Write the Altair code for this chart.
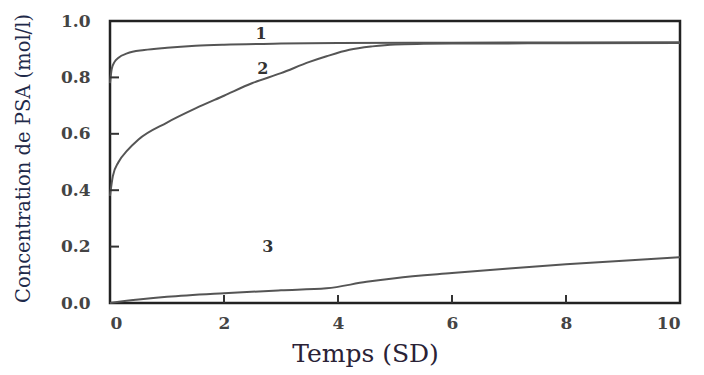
import altair as alt
import pandas as pd

# Curve 1
c1_t = [0, 0.03, 0.08, 0.15, 0.3, 0.6, 1.0, 1.5, 2.0, 3.0, 4.0, 6.0, 8.0, 10.0]
c1_y = [0.78, 0.83, 0.855, 0.87, 0.885, 0.897, 0.905, 0.912, 0.916, 0.92, 0.922, 0.923, 0.924, 0.925]
# Curve 2
c2_t = [0, 0.05, 0.15, 0.3, 0.5, 1.0, 1.5, 2.0, 2.5, 3.0, 3.5, 3.8, 4.2, 4.6, 5.0, 5.5, 6.0, 8.0, 10.0]
c2_y = [0.38, 0.45, 0.50, 0.54, 0.58, 0.64, 0.69, 0.735, 0.78, 0.815, 0.855, 0.875, 0.898, 0.91, 0.917, 0.919, 0.92, 0.921, 0.922]
# Curve 3
c3_t = [0, 0.5, 1.0, 2.0, 3.0, 3.8, 4.5, 5.0, 6.0, 7.0, 8.0, 9.0, 10.0]
c3_y = [0.0, 0.012, 0.022, 0.035, 0.045, 0.052, 0.075, 0.088, 0.106, 0.122, 0.137, 0.150, 0.162]

label_text = ["1", "2", "3"]
label_t = [2.65, 2.68, 2.77]
label_y = [0.955, 0.83, 0.2]

x_ticks = [2, 4, 6, 8]
y_ticks = [0.2, 0.4, 0.6, 0.8]

rows = []
for name, ts, ys in [("1", c1_t, c1_y), ("2", c2_t, c2_y), ("3", c3_t, c3_y)]:
    for t, y in zip(ts, ys):
        rows.append({"serie": name, "t": t, "c": y})
df = pd.DataFrame(rows)
labels = pd.DataFrame({"txt": label_text, "t": label_t, "c": label_y})
xt = pd.DataFrame({"t": x_ticks})
yt = pd.DataFrame({"c": y_ticks})

FONT = "DejaVu Serif"
xscale = alt.Scale(domain=[0, 10], nice=False, zero=False)
yscale = alt.Scale(domain=[0, 1], nice=False)

xaxis = alt.Axis(values=[0, 2, 4, 6, 8, 10], format="d", domain=False, ticks=False, grid=False,
                 labelFont=FONT, labelFontSize=17, labelFontWeight="bold", labelColor="#444444",
                 labelPadding=12, title="Temps (SD)", titleFont=FONT, titleFontSize=25,
                 titleFontWeight="normal", titleColor="#2a2236", titleX=255, titleY=58,
                 titleBaseline="alphabetic", titleAnchor="start", titleAlign="center")
yaxis = alt.Axis(values=[0, 0.2, 0.4, 0.6, 0.8, 1.0], format=".1f", domain=False, ticks=False,
                 grid=False, labelFont=FONT, labelFontSize=17, labelFontWeight="bold",
                 labelColor="#444444", labelPadding=20, title="Concentration de PSA (mol/l)",
                 titleFont=FONT, titleFontSize=19.5, titleFontWeight="normal", titleColor="#1f2a4a",
                 titleX=-87, titleY=137, titleBaseline="middle", titleAlign="center", titleAngle=-90)

lines = alt.Chart(df).mark_line(color="#555555", strokeWidth=2, interpolate="monotone").encode(
    x=alt.X("t:Q", scale=xscale, axis=xaxis),
    y=alt.Y("c:Q", scale=yscale, axis=yaxis),
    detail="serie:N",
)

txt = alt.Chart(labels).mark_text(font=FONT, fontSize=16, fontWeight="bold", color="#333333").encode(
    x=alt.X("t:Q", scale=xscale), y=alt.Y("c:Q", scale=yscale), text="txt:N"
)

xtick = alt.Chart(xt).mark_rule(color="#333333", strokeWidth=2).encode(
    x=alt.X("t:Q", scale=xscale), y=alt.value(282), y2=alt.value(274)
)
ytick = alt.Chart(yt).mark_rule(color="#333333", strokeWidth=2).encode(
    y=alt.Y("c:Q", scale=yscale), x=alt.value(0), x2=alt.value(9)
)

chart = (lines + txt + xtick + ytick).properties(
    width=570, height=282,
    autosize=alt.AutoSizeParams(type="none"),
    padding={"left": 110, "top": 21, "right": 24, "bottom": 72},
    background="white",
).configure_view(stroke="#222222", strokeWidth=2.5)

chart.save("out.html", embed_options={"renderer": "svg", "actions": False})
